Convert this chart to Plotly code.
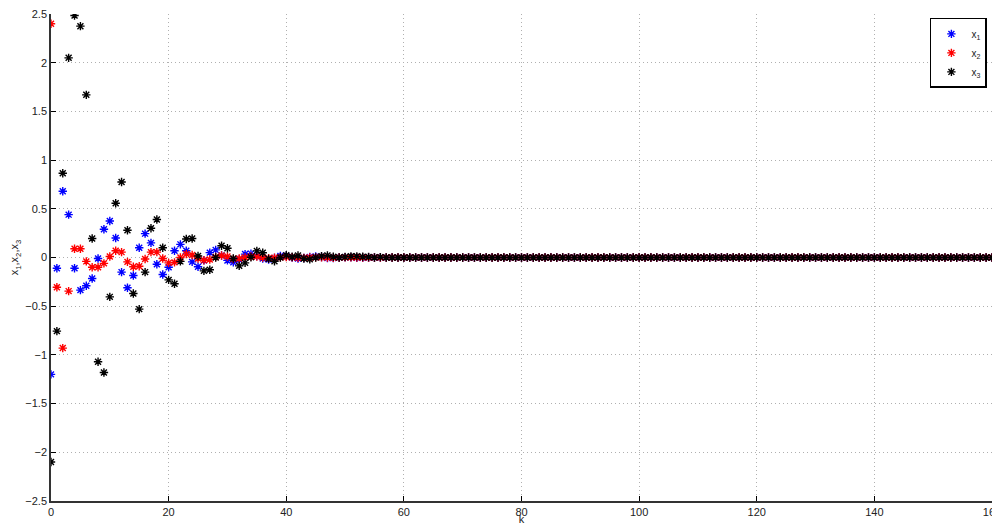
import plotly.graph_objects as go

# k = 0 .. 160
k = list(range(161))

x1_head = [-1.20, -0.11, 0.68, 0.44, -0.11, -0.335, -0.29, -0.215, -0.01, 0.29,
           0.375, 0.20, -0.15, -0.31, -0.185, 0.10, 0.245, 0.15, -0.07, -0.175,
           -0.10, 0.07, 0.135, 0.07, -0.045, -0.095, -0.03, 0.05, 0.078, 0.02,
           -0.03, -0.05, -0.02, 0.035, 0.04, 0.015, -0.01, -0.02, -0.005, 0.015,
           0.015, 0.0, -0.01, -0.005, 0.005, 0.01, 0.005, -0.005, -0.005, 0.0,
           0.003, 0.002, -0.002, -0.002, 0.0, 0.0, 0.0]
x2_head = [2.40, -0.305, -0.93, -0.345, 0.09, 0.09, -0.04, -0.10, -0.10, -0.06,
           0.01, 0.07, 0.055, -0.045, -0.095, -0.09, -0.015, 0.055, 0.055, -0.01,
           -0.055, -0.05, 0.0, 0.035, 0.025, -0.01, -0.028, -0.02, 0.005, 0.02,
           0.01, -0.015, -0.01, 0.0, 0.01, 0.01, 0.0, -0.008, -0.003, 0.003,
           0.005, 0.002, -0.003, -0.004, 0.0, 0.003, 0.002, -0.001, -0.002, 0.0,
           0.001, 0.001, 0.0, 0.0, 0.0, 0.0, 0.0]
x3_head = [-2.10, -0.756, 0.865, 2.05, 2.485, 2.375, 1.67, 0.195, -1.07, -1.18,
           -0.404, 0.557, 0.775, 0.28, -0.37, -0.53, -0.15, 0.30, 0.39, 0.10,
           -0.23, -0.27, -0.04, 0.19, 0.195, 0.016, -0.137, -0.125, 0.0, 0.12,
           0.095, -0.01, -0.086, -0.055, 0.003, 0.068, 0.048, -0.014, -0.038, 0.0,
           0.024, 0.007, 0.02, -0.01, -0.018, 0.0, 0.014, 0.022, 0.007, 0.0,
           0.006, 0.012, 0.012, 0.008, 0.005, 0.0, 0.004]
tail = [0.0, 0.0, 0.0, 0.0, 0.0, 0.0, 0.0, 0.0, 0.0, 0.0,
        0.0, 0.0, 0.0, 0.0, 0.0, 0.0, 0.0, 0.0, 0.0, 0.0,
        0.0, 0.0, 0.0, 0.0, 0.0, 0.0, 0.0, 0.0, 0.0, 0.0,
        0.0, 0.0, 0.0, 0.0, 0.0, 0.0, 0.0, 0.0, 0.0, 0.0,
        0.0, 0.0, 0.0, 0.0, 0.0, 0.0, 0.0, 0.0, 0.0, 0.0,
        0.0, 0.0, 0.0, 0.0, 0.0, 0.0, 0.0, 0.0, 0.0, 0.0,
        0.0, 0.0, 0.0, 0.0, 0.0, 0.0, 0.0, 0.0, 0.0, 0.0,
        0.0, 0.0, 0.0, 0.0, 0.0, 0.0, 0.0, 0.0, 0.0, 0.0,
        0.0, 0.0, 0.0, 0.0, 0.0, 0.0, 0.0, 0.0, 0.0, 0.0,
        0.0, 0.0, 0.0, 0.0, 0.0, 0.0, 0.0, 0.0, 0.0, 0.0,
        0.0, 0.0, 0.0, 0.0]
x1 = x1_head + tail
x2 = x2_head + tail
x3 = x3_head + tail

series_names = ["x<sub>1</sub>", "x<sub>2</sub>", "x<sub>3</sub>"]
series_colors = ["#0000ff", "#ff0000", "#000000"]
x_ticks = [0, 20, 40, 60, 80, 100, 120, 140, 160]
y_ticks = [-2.5, -2, -1.5, -1, -0.5, 0, 0.5, 1, 1.5, 2, 2.5]

fig = go.Figure()
for name, vals, col in zip(series_names, [x1, x2, x3], series_colors):
    fig.add_trace(go.Scatter(
        x=k, y=vals, mode="markers", name=name,
        marker=dict(symbol="asterisk-open", size=7, color=col,
                    line=dict(color=col, width=1.4)),
    ))

font = dict(family="Liberation Sans, Arial, sans-serif", size=11, color="#222")

fig.update_layout(
    width=992, height=525,
    margin=dict(l=51, r=0, t=14, b=24),
    paper_bgcolor="white", plot_bgcolor="white",
    font=font,
    showlegend=True,
    legend=dict(x=0.934, y=0.992, xanchor="left", yanchor="top",
                bgcolor="white", bordercolor="black", borderwidth=1.5,
                font=dict(family="Liberation Sans, Arial, sans-serif", size=10, color="#222"),
                itemwidth=30, tracegroupgap=0),
    xaxis=dict(range=[0, 160], tickvals=x_ticks, ticks="inside", ticklen=5,
               tickcolor="black", showline=True, linecolor="#333", linewidth=1.5,
               showgrid=True, gridcolor="#b0b0b0", griddash="1px,3px", gridwidth=1,
               zeroline=False, mirror=False, ticklabeloverflow="allow",
               title=dict(text="k", standoff=2, font=font), automargin=False),
    yaxis=dict(range=[-2.5, 2.5], tickvals=y_ticks, ticks="inside", ticklen=5,
               tickcolor="black", showline=True, linecolor="#333", linewidth=1.5,
               showgrid=True, gridcolor="#b0b0b0", griddash="1px,3px", gridwidth=1,
               zeroline=False, mirror=False,
               title=dict(text="x<sub>1</sub>,x<sub>2</sub>,x<sub>3</sub>", standoff=4, font=font),
               automargin=False),
)

fig.write_html("out.html", config={"displayModeBar": False},
               post_script="document.body.style.margin='0';")
